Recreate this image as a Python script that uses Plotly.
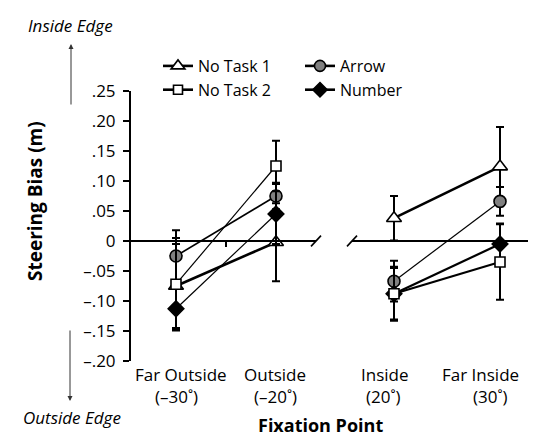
import plotly.graph_objects as go

# ---------------- data ----------------
cat_line1 = ["Far Outside", "Outside", "Inside", "Far Inside"]
cat_line2 = ["(–30˚)", "(–20˚)", "(20˚)", "(30˚)"]

no_task1 = [-0.075, -0.002, 0.038, 0.124]
no_task1_err = [0.070, 0.065, 0.037, 0.066]
no_task2 = [-0.072, 0.125, -0.088, -0.035]
no_task2_err = [0.077, 0.042, 0.043, 0.063]
arrow = [-0.025, 0.075, -0.067, 0.066]
arrow_err = [0.043, 0.022, 0.034, 0.024]
number = [-0.113, 0.045, -0.088, -0.005]
number_err = [0.035, 0.050, 0.045, 0.034]

y_tickvals = [0.25, 0.20, 0.15, 0.10, 0.05, 0, -0.05, -0.10, -0.15, -0.20]
y_ticktext = [".25", ".20", ".15", ".10", ".05", "0", "–.05", "–.10", "–.15", "–.20"]

# ---------------- layout constants ----------------
X_POS = [1, 2, 3.18, 4.24]          # category positions (two panels with a break)
XR = [0.55, 4.65]
FONT = "Open Sans"

W, H = 536, 439
L, R, T, B = 123, 3, 83, 86
pw, ph = W - L - R, H - T - B
def px(xp):
    return (xp - L) / pw
def py(yp):
    return (H - B - yp) / ph

styles = {
    "No Task 1": dict(symbol="triangle-up", size=13, color="white", w=(2.6, 2.6)),
    "Arrow": dict(symbol="circle", size=12, color="#808080", w=(1.6, 1.2)),
    "No Task 2": dict(symbol="square", size=10, color="white", w=(1.2, 2.2)),
    "Number": dict(symbol="diamond", size=12, color="black", w=(1.2, 2.2)),
}
values = {
    "No Task 1": (no_task1, no_task1_err),
    "Arrow": (arrow, arrow_err),
    "No Task 2": (no_task2, no_task2_err),
    "Number": (number, number_err),
}

fig = go.Figure()
draw_order = ["No Task 1", "Arrow", "Number", "No Task 2"]
for name in draw_order:
    st = styles[name]
    vals, errs = values[name]
    for seg, idx in enumerate([(0, 1), (2, 3)]):
        fig.add_trace(go.Scatter(
            x=[X_POS[i] for i in idx], y=[vals[i] for i in idx],
            mode="lines+markers", showlegend=False,
            line=dict(color="black", width=st["w"][seg]),
            marker=dict(symbol=st["symbol"], size=st["size"], color=st["color"],
                        line=dict(color="black", width=1.6)),
            error_y=dict(type="data", array=[errs[i] for i in idx], visible=True,
                         color="black", thickness=2, width=4),
            cliponaxis=False,
        ))

# legend-only traces
for name, lg in [("No Task 1", "legend"), ("No Task 2", "legend"), ("Arrow", "legend2"), ("Number", "legend2")]:
    st = styles[name]
    fig.add_trace(go.Scatter(
        x=[None], y=[None], name=name, mode="lines+markers", legend=lg,
        line=dict(color="black", width=2.6),
        marker=dict(symbol=st["symbol"], size=st["size"] - 1, color=st["color"],
                    line=dict(color="black", width=1.6)),
    ))

shapes = [
    dict(type="line", xref="x", yref="y", x0=XR[0], x1=2.40, y0=0, y1=0, line=dict(color="black", width=2)),
    dict(type="line", xref="x", yref="y", x0=2.76, x1=XR[1], y0=0, y1=0, line=dict(color="black", width=2)),
    dict(type="line", xref="x", yref="y", x0=2.35, x1=2.45, y0=-0.009, y1=0.009, line=dict(color="black", width=1.6)),
    dict(type="line", xref="x", yref="y", x0=2.71, x1=2.81, y0=-0.009, y1=0.009, line=dict(color="black", width=1.6)),
    dict(type="line", xref="x", yref="y", x0=1.5, x1=1.5, y0=0, y1=-0.01, line=dict(color="black", width=2)),
]

annotations = [
    dict(xref="paper", yref="paper", x=px(63), y=py(36), ax=0, ay=62, text="", showarrow=True,
         arrowhead=2, arrowsize=1, arrowwidth=1, arrowcolor="#333"),
    dict(xref="paper", yref="paper", x=px(62), y=py(393), ax=0, ay=-72, text="", showarrow=True,
         arrowhead=2, arrowsize=1, arrowwidth=1, arrowcolor="#333"),
    dict(xref="paper", yref="paper", x=px(62), y=py(17), text="<i>Inside Edge</i>", showarrow=False,
         font=dict(family=FONT, size=17, color="black"), xanchor="center", yanchor="middle"),
    dict(xref="paper", yref="paper", x=px(64), y=py(409), text="<i>Outside Edge</i>", showarrow=False,
         font=dict(family=FONT, size=17, color="black"), xanchor="center", yanchor="middle"),
    dict(xref="paper", yref="paper", x=px(27), y=py(193), text="<b>Steering Bias (m)</b>", showarrow=False,
         textangle=-90, font=dict(family=FONT, size=19, color="black"), xanchor="center", yanchor="middle"),
    dict(xref="paper", yref="paper", x=px(312), y=py(417), text="<b>Fixation Point</b>", showarrow=False,
         font=dict(family=FONT, size=18, color="black"), xanchor="center", yanchor="middle"),
]
# category labels (two lines each)
lab1_x = [173, 267, 377, 472]
lab2_x = [168, 267, 375, 482]
for i in range(4):
    annotations.append(dict(xref="paper", yref="paper", x=px(lab1_x[i]), y=py(366), text=cat_line1[i],
                            showarrow=False, font=dict(family=FONT, size=17, color="black"),
                            xanchor="center", yanchor="middle"))
    annotations.append(dict(xref="paper", yref="paper", x=px(lab2_x[i]), y=py(388), text=cat_line2[i],
                            showarrow=False, font=dict(family=FONT, size=17, color="black"),
                            xanchor="center", yanchor="middle"))

fig.update_layout(
    width=W, height=H,
    margin=dict(l=L, r=R, t=T, b=B),
    paper_bgcolor="white", plot_bgcolor="white",
    font=dict(family=FONT, size=16, color="black"),
    xaxis=dict(range=XR, tickvals=X_POS, showticklabels=False, showgrid=False, zeroline=False,
               showline=False, ticks="", fixedrange=True),
    yaxis=dict(range=[-0.20, 0.25], tickvals=y_tickvals, ticktext=y_ticktext, showgrid=False,
               zeroline=False, showline=True, linecolor="black", linewidth=2,
               ticks="outside", ticklen=6, tickwidth=2, tickcolor="black",
               ticklabelstandoff=4, tickfont=dict(size=17), fixedrange=True),
    shapes=shapes,
    annotations=annotations,
    legend=dict(x=px(150), y=py(41), xanchor="left", yanchor="top", bgcolor="rgba(0,0,0,0)",
                font=dict(family=FONT, size=16), tracegroupgap=0, itemwidth=30),
    legend2=dict(x=px(292), y=py(41), xanchor="left", yanchor="top", bgcolor="rgba(0,0,0,0)",
                 font=dict(family=FONT, size=16), tracegroupgap=0, itemwidth=30),
)

fig.write_html("out.html")
